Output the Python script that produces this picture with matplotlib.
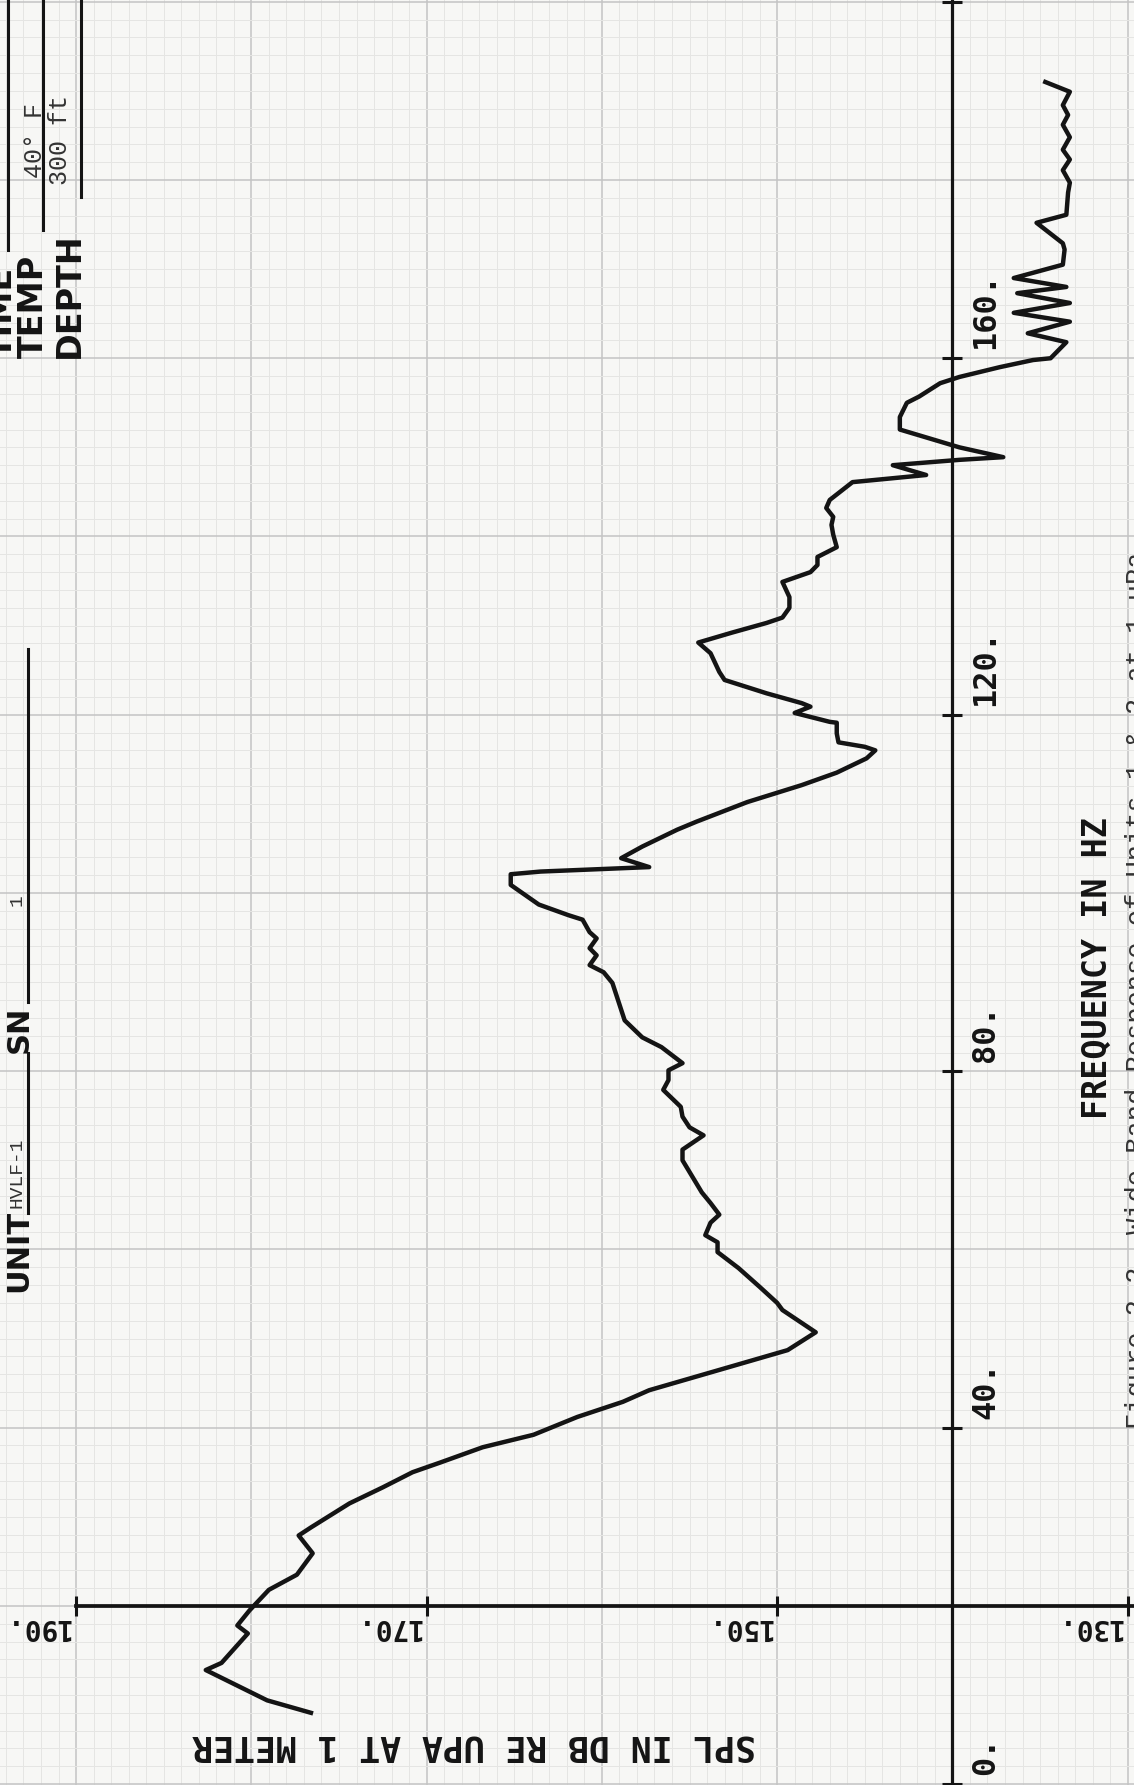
import numpy as np
import matplotlib
matplotlib.use("Agg")
import matplotlib.pyplot as plt

# trace (frequency in Hz, SPL in dB re uPa at 1 m)
freq_hz = [8.0, 9.4, 12.8, 13.6, 16.9, 17.8, 19.5, 21.8, 23.5, 25.9,
           27.9, 28.8, 31.5, 33.3, 35.0, 36.1, 37.8, 39.2, 41.2, 42.9,
           44.2, 48.7, 50.7, 53.2, 54.0, 55.8, 57.9, 59.7, 60.8, 61.6,
           63.0, 63.9, 65.2, 66.4, 70.0, 71.2, 72.8, 73.7, 74.9, 76.0,
           77.9, 79.0, 80.1, 80.9, 82.7, 83.8, 85.7, 89.9, 91.1, 91.9,
           93.0, 93.8, 94.9, 95.6, 97.0, 97.5, 98.7, 100.9, 102.1, 102.4,
           102.9, 103.9, 105.2, 107.1, 108.0, 110.2, 112.1, 113.5, 115.1, 116.0,
           116.4, 116.9, 117.9, 119.1, 119.2, 120.0, 120.2, 120.9, 121.3, 122.4,
           123.9, 124.8, 126.9, 128.1, 129.2, 130.3, 130.9, 132.0, 133.2, 134.9,
           136.0, 136.8, 137.7, 138.8, 140.2, 141.3, 142.2, 143.2, 144.1,
           146.1, 146.9, 148.0, 148.6, 148.9, 150.0, 152.0, 153.4, 155.0, 155.7, 157.2,
           157.9, 159.0, 159.8, 160.0, 161.8, 162.8, 164.1, 165.1, 166.2, 167.3,
           168.0, 169.0, 170.5, 172.2, 172.9, 175.2, 176.1, 178.6, 179.7, 181.1,
           182.3, 183.4, 184.8, 186.2, 187.3, 188.4, 189.9, 191.0]
spl_db = [176.6, 179.1, 182.6, 181.7, 180.2, 180.8, 180.1, 179.0, 177.4, 176.5,
          177.3, 176.6, 174.4, 172.5, 170.8, 169.2, 166.8, 163.9, 161.4, 158.8,
          157.3, 149.4, 147.8, 149.7, 150.0, 151.0, 152.2, 153.4, 153.4, 154.1,
          153.8, 153.3, 153.8, 154.3, 155.4, 155.4, 154.2, 155.0, 155.4, 155.5,
          156.5, 156.2, 156.2, 155.4, 156.6, 157.7, 158.7, 159.4, 159.9, 160.7,
          160.3, 160.7, 160.3, 160.7, 161.1, 161.9, 163.6, 165.2, 165.2, 163.5,
          157.3, 158.9, 157.7, 155.7, 154.6, 151.7, 148.6, 146.6, 144.9, 144.4,
          145.0, 146.5, 146.6, 146.6, 147.0, 148.6, 149.0, 148.1, 148.6, 150.6,
          153.0, 153.3, 153.8, 154.5, 152.6, 150.6, 149.7, 149.3, 149.3, 149.7,
          148.1, 147.7, 147.7, 146.6, 146.8, 146.9, 146.8, 147.2, 147.0,
          145.7, 141.5, 143.4, 139.6, 137.1, 139.6, 143.0, 143.0, 142.6, 141.9, 140.7,
          139.6, 137.3, 135.4, 134.4, 133.5, 135.7, 133.3, 136.5, 133.3, 136.3,
          133.5, 136.5, 133.7, 133.6, 133.7, 135.2, 133.5, 133.4, 133.3, 133.7,
          133.3, 133.7, 133.3, 133.7, 133.4, 133.7, 133.3, 134.7]

spl_ticks = [190, 170, 150, 130]
spl_tick_labels = ["190.", "170.", "150.", "130."]
freq_ticks = [0, 40, 80, 120, 160, 200]
freq_tick_labels = ["0.", "40.", "80.", "120.", "160."]

W, H = 1134, 1785
INK = "#141414"
PLOT_FONT = "DejaVu Sans Mono"
TYPE_FONT = "Liberation Mono"

fig = plt.figure(figsize=(W / 100, H / 100), dpi=100)
fig.patch.set_facecolor("#f7f7f5")
ax = fig.add_axes([0, 0, 1, 1])
ax.set_facecolor("#f7f7f5")

# the sheet is turned on its side: SPL runs left to right (high to low), frequency bottom to top
ax.set_xlim(194.34, 129.64)
ax.set_ylim(-0.1, 200.2)

# graph paper
for v in np.arange(129, 196, 1):
    major = v % 10 == 0
    ax.axvline(v, color="#c4c4c4" if major else "#e5e5e3", lw=1.1 if major else 0.7, zorder=0)
for f in np.arange(0, 202, 2):
    major = f % 20 == 0
    ax.axhline(f, color="#c4c4c4" if major else "#e5e5e3", lw=1.1 if major else 0.7, zorder=0)

# axes drawn as crossing lines: frequency axis at 140 dB, SPL axis at 20 Hz
for side in ["top", "right"]:
    ax.spines[side].set_visible(False)
ax.spines["left"].set_position(("data", 140))
ax.spines["bottom"].set_position(("data", 20))
ax.spines["bottom"].set_bounds(129.64, 190)
ax.spines["left"].set_linewidth(2.3)
ax.spines["bottom"].set_linewidth(2.7)
for side in ["left", "bottom"]:
    ax.spines[side].set_color(INK)
    ax.spines[side].set_zorder(3)

ax.set_xticks(spl_ticks)
ax.set_yticks(freq_ticks)
ax.set_xticklabels([])
ax.set_yticklabels([])
ax.tick_params(axis="both", direction="inout", length=15, width=2.2, color=INK)

for v, lab in zip(spl_ticks, spl_tick_labels):
    ax.text(v + 0.35, 19.2, lab, rotation=180, ha="right", va="top",
            family=PLOT_FONT, weight="bold", fontsize=20, color=INK)
for f, lab in zip(freq_ticks, freq_tick_labels):
    ax.text(139.0, f + 1.0, lab, rotation=90, ha="left", va="bottom",
            family=PLOT_FONT, weight="bold", fontsize=23, color=INK)

ax.plot(spl_db, freq_hz, color=INK, lw=3.2, solid_joinstyle="round", zorder=4)

# axis titles
ax.text(474 / W, 1 - 1745 / H, "SPL IN DB RE UPA AT 1 METER", transform=ax.transAxes,
        rotation=180, ha="center", va="center", family=PLOT_FONT, weight="bold",
        fontsize=25, color=INK)
ax.text(1097 / W, 1 - 968 / H, "FREQUENCY IN HZ", transform=ax.transAxes,
        rotation=90, ha="center", va="center", family=PLOT_FONT, weight="bold",
        fontsize=24, color=INK)

# header block (upper left corner of the sheet)
header = [("TIME", 2, 8, 250), ("TEMP", 33, 43, 230), ("DEPTH", 69, 81, 197)]
for word, tx, lx, ltop in header:
    ax.text(tx / W, 1 - 358 / H, word, transform=ax.transAxes, rotation=90,
            ha="center", va="bottom", family="DejaVu Sans", weight="bold",
            fontsize=24, color=INK)
    ax.plot([lx / W, lx / W], [1, 1 - ltop / H], transform=ax.transAxes,
            color=INK, lw=2.2, clip_on=False)
ax.text(35 / W, 1 - 140 / H, "40\u00b0 F", transform=ax.transAxes, rotation=90,
        ha="center", va="center", family=TYPE_FONT, fontsize=18, color="#333333")
ax.text(60 / W, 1 - 140 / H, "300 ft", transform=ax.transAxes, rotation=90,
        ha="center", va="center", family=TYPE_FONT, fontsize=18, color="#333333")

ax.text(19 / W, 1 - 1292 / H, "UNIT", transform=ax.transAxes, rotation=90,
        ha="center", va="bottom", family="DejaVu Sans", weight="bold",
        fontsize=22, color=INK)
ax.text(19 / W, 1 - 1053 / H, "SN", transform=ax.transAxes, rotation=90,
        ha="center", va="bottom", family="DejaVu Sans", weight="bold",
        fontsize=22, color=INK)
ax.plot([28 / W, 28 / W], [1 - 1213 / H, 1 - 1053 / H], transform=ax.transAxes, color=INK, lw=2.2)
ax.plot([28 / W, 28 / W], [1 - 1002 / H, 1 - 649 / H], transform=ax.transAxes, color=INK, lw=2.2)
ax.text(17 / W, 1 - 1173 / H, "HVLF-1", transform=ax.transAxes, rotation=90,
        ha="center", va="center", family=TYPE_FONT, fontsize=14, color="#333333")
ax.text(17 / W, 1 - 900 / H, "1", transform=ax.transAxes, rotation=90,
        ha="center", va="center", family=TYPE_FONT, fontsize=14, color="#333333")

# figure caption, cut off by the right edge of the scan
ax.text(1138 / W, 1 - 1429 / H, "Figure 2.2. Wide Band Response of Units 1 & 2 at 1 uPa",
        transform=ax.transAxes, rotation=90, ha="center", va="bottom",
        family=TYPE_FONT, fontsize=19.5, color="#333333")

fig.savefig("out.png", dpi=100, facecolor=fig.get_facecolor())
